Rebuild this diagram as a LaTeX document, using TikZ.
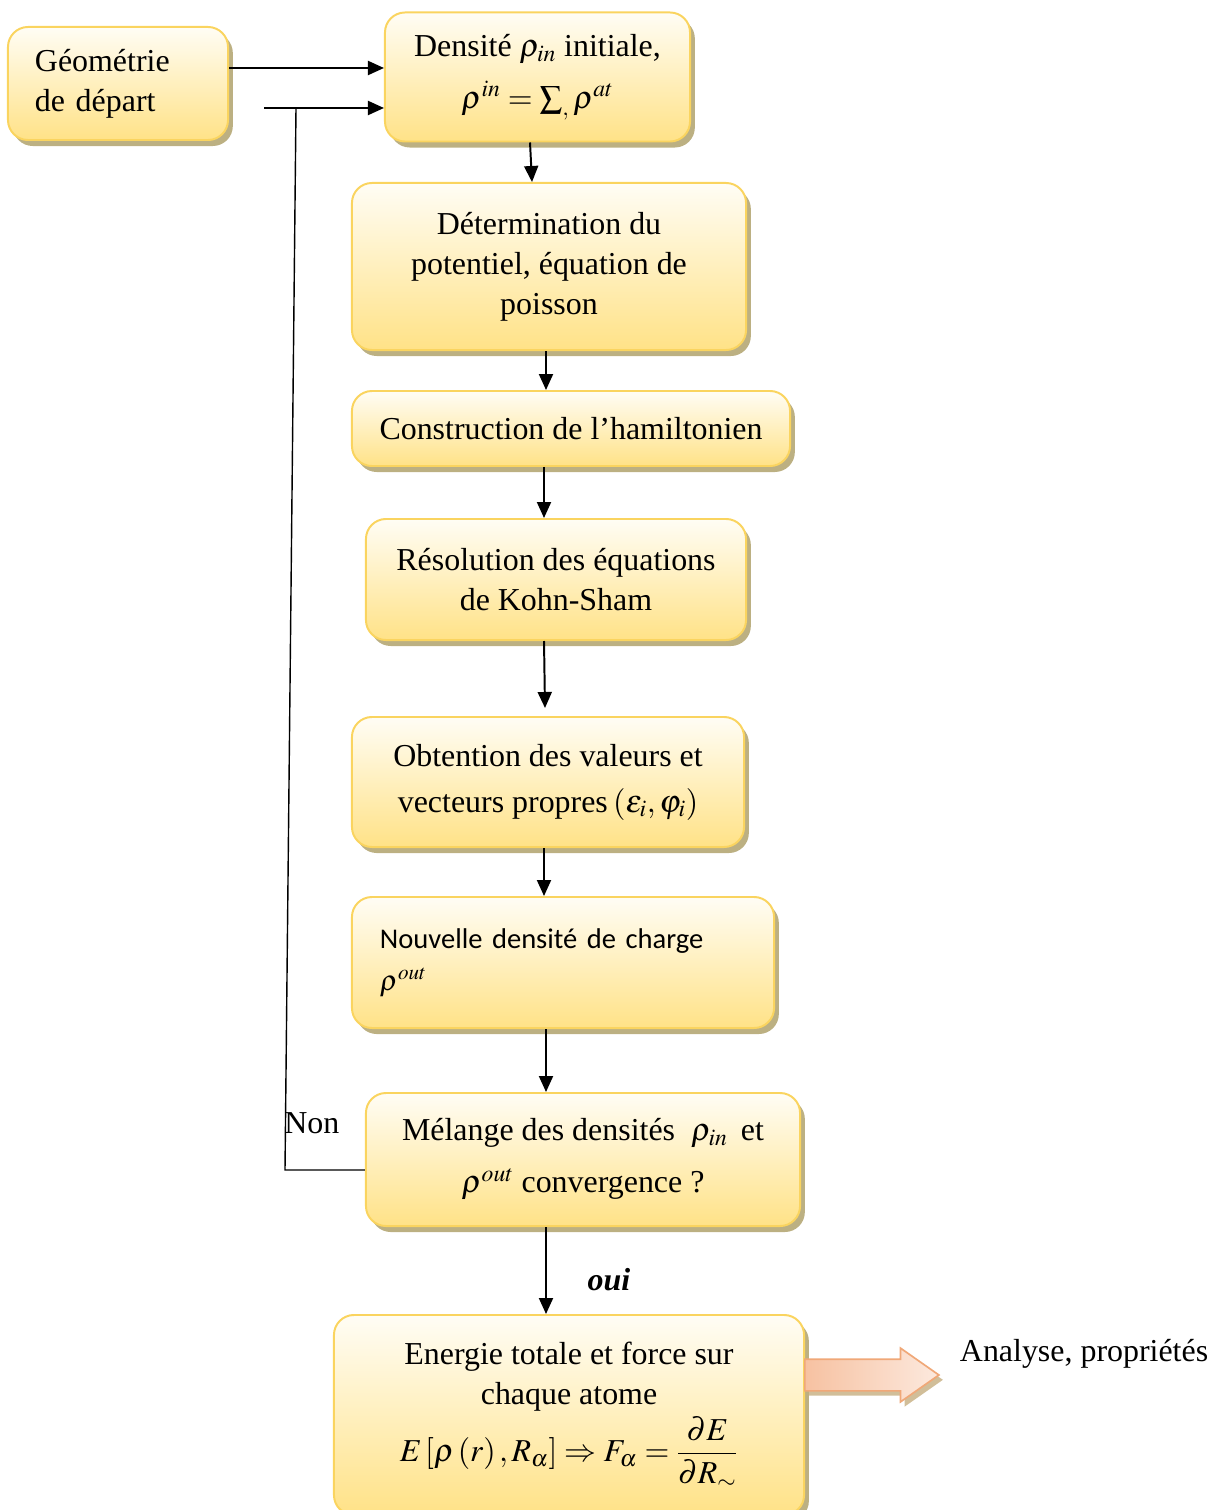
\documentclass[tikz,border=0pt]{standalone}
\usepackage{mathptmx}
\usepackage[no-math]{fontspec}
\setmainfont{Liberation Serif}
\newfontfamily\calibri{Carlito}
\usetikzlibrary{arrows.meta,shadows,shapes.arrows}
\definecolor{bord}{RGB}{250,212,95}
\definecolor{haut}{RGB}{255,253,245}
\definecolor{bas}{RGB}{255,226,135}
\definecolor{ombre}{RGB}{188,176,130}
\definecolor{peche}{RGB}{248,200,172}
\definecolor{pechebord}{RGB}{240,168,120}
\newcommand{\grand}{\fontsize{22.7}{28.5}\selectfont}
\begin{document}
\begin{tikzpicture}[x=0.025cm,y=-0.025cm,
    etape/.style={draw=bord,line width=1.4pt,rounded corners=0.5cm,
      top color=haut,bottom color=bas,align=center,inner sep=0pt,font=\grand,
      drop shadow={shadow xshift=0.12cm,shadow yshift=-0.15cm,fill=ombre,opacity=1}},
    fleche/.style={line width=1.4pt,-{Triangle[length=0.4cm,width=0.35cm]}}]
  \useasboundingbox (0,0) rectangle (1216,1510);
  % les etapes
  \node[etape,minimum width=5.5cm,minimum height=2.825cm,text width=4.15cm,align=left]
    (geo) at (118,83.5) {G\'eom\'etrie\\de d\'epart};
  \node[etape,minimum width=7.625cm,minimum height=3.225cm] (dens) at (537.5,77)
    {Densit\'e $\rho_{in}$ initiale,\\[0.3cm] $\rho^{in}=\sum_{,}\rho^{at}$};
  \node[etape,minimum width=9.85cm,minimum height=4.175cm] (pot) at (549,266.5)
    {D\'etermination du\\potentiel, \'equation de\\poisson};
  \node[etape,minimum width=10.95cm,minimum height=1.875cm] (ham) at (571,428.5)
    {Construction de l’hamiltonien};
  \node[etape,minimum width=9.5cm,minimum height=3.025cm] (ks) at (556,579.5)
    {R\'esolution des \'equations\\de Kohn-Sham};
  \node[etape,minimum width=9.8cm,minimum height=3.25cm] (vp) at (548,782)
    {Obtention des valeurs et\\[0.15cm] vecteurs propres\,$\left(\varepsilon_i,\varphi_i\right)$};
  \node[etape,minimum width=10.55cm,minimum height=3.275cm,text width=9.15cm,align=left,
    font=\calibri\fontsize{20.3}{30}\selectfont] (rho) at (563,962.5)
    {Nouvelle densit\'e de charge\\$\rho^{out}$\\[0.15cm]};
  \node[etape,minimum width=10.85cm,minimum height=3.325cm] (mel) at (583,1159.5)
    {M\'elange des densit\'es \ $\rho_{in}$\, et\\[0.3cm] $\rho^{out}$ convergence ?};
  \node[etape,minimum width=11.75cm,minimum height=5cm] (ener) at (569,1415)
    {Energie totale et force sur\\chaque atome\\[0.1cm]
     $E\left[\rho\left(r\right),R_\alpha\right]\Rightarrow F_\alpha=\displaystyle\frac{\partial E}{\partial R_{\sim}}$};
  \node[single arrow,draw=pechebord,line width=1.2pt,left color=peche!80!pechebord,right color=peche!40,
    minimum height=3.35cm,minimum width=1.3cm,inner sep=0.375cm,single arrow head extend=0.275cm,
    single arrow tip angle=70,anchor=west,
    drop shadow={shadow xshift=0.1cm,shadow yshift=-0.12cm,fill=ombre!80!pechebord,opacity=0.8}]
    (bloc) at (804,1375) {};
  \node[anchor=west,font=\grand] (ana) at (955,1354) {Analyse, propri\'et\'es};
  % les connecteurs
  \coordinate (gauche) at (264,108);
  \coordinate (coinbas) at (285,1170);
  \coordinate (coinhaut) at (296,108);
  \draw[fleche] (geo.east |- 0,68) -- (dens.west |- 0,68);
  \draw[fleche] (gauche) -- (dens.west |- gauche);
  \draw[line width=1pt] (mel.west |- coinbas) -- (coinbas) -- (coinhaut);
  \node[anchor=west,inner sep=0pt,font=\grand] (non) at (284,1123) {Non};
  \draw[fleche] (dens.south -| 530,0) -- (pot.north -| 532,0);
  \draw[fleche] (pot.south -| 546,0) -- (ham.north -| 546,0);
  \draw[fleche] (ham.south -| 544,0) -- (ks.north -| 544,0);
  \draw[fleche] (ks.south -| 544,0) -- (545,708);
  \draw[fleche] (vp.south -| 544,0) -- (rho.north -| 544,0);
  \draw[fleche] (rho.south -| 546,0) -- (mel.north -| 546,0);
  \draw[fleche] (mel.south -| 546,0) -- (ener.north -| 546,0)
    node[pos=0.6,right=0.9cm,font=\grand\bfseries\itshape] (oui) {oui};
\end{tikzpicture}
\end{document}
